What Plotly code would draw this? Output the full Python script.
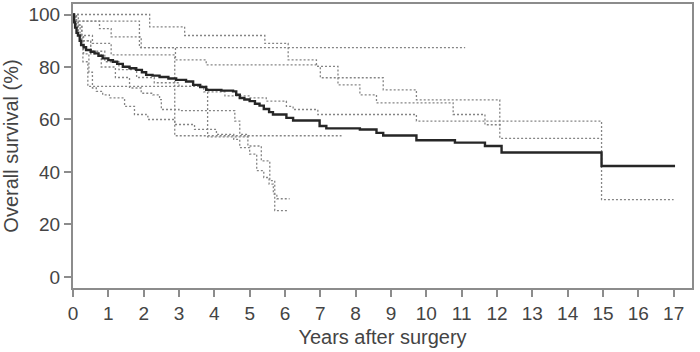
import plotly.graph_objects as go

# Overall (solid) Kaplan-Meier curve
overall_x = [0, 0.03, 0.06, 0.1, 0.14, 0.19, 0.23, 0.3, 0.37, 0.5, 0.61, 0.72, 0.84, 1.0, 1.13, 1.25,
             1.41, 1.6, 1.79, 1.95, 2.07, 2.25, 2.45, 2.7, 2.92, 3.2, 3.4, 3.6, 3.77, 4.2, 4.53, 4.62,
             4.72, 4.85, 5.0, 5.15, 5.28, 5.4, 5.55, 5.66, 6.04, 6.23, 6.98, 7.17, 8.12, 8.59, 8.78,
             9.72, 10.81, 11.66, 12.13, 14.96, 17.04]
overall_y = [100, 97, 95, 93, 92, 90, 88.4, 87.5, 86.5, 85.8, 85.2, 84.3, 83.3, 82.6, 82, 81.2,
             80.1, 79.5, 78.9, 78, 77, 76.7, 76.2, 75.6, 75.1, 74.5, 73.2, 72.4, 71.3, 71, 70.7, 69.4,
             68.2, 67.6, 67, 66, 65.3, 64, 62.8, 61.9, 60.6, 59.6, 57.5, 56.6, 56.2, 54.9, 53.9,
             52.1, 51.2, 49.9, 47.4, 42.3, 42.3]

# Subgroup (dotted) curves
g1_x = [0, 0.04, 1.88, 11.1]
g1_y = [100, 97.5, 87.4, 87.4]

g2_x = [0, 2.17, 3.16, 5.43, 6.09, 6.89, 7.0, 8.78, 9.72, 12.08, 14.96]
g2_y = [100, 95.3, 92, 89, 82.7, 80.2, 75.9, 71.3, 67.5, 52.8, 52.8]

g3_x = [0, 0.04, 0.75, 1.08, 1.93, 2.9, 3.77, 6.89, 7.5, 8.12, 8.59, 10.76, 11.66, 12.13]
g3_y = [100, 97.5, 94.6, 91.5, 87.4, 82.7, 80.8, 80.2, 73.2, 69.4, 66.3, 61.9, 58, 58]

g4_x = [0, 0.08, 0.25, 0.55, 1.08, 2.88, 7.6]
g4_y = [100, 96, 92, 89, 84.6, 53.8, 53.8]

g5_x = [0, 0.08, 0.2, 0.5, 0.9, 1.3, 1.8, 2.3, 3.0, 3.7, 4.3, 5.0, 5.47, 6.04, 6.23, 6.93, 9.72, 14.96, 17.0]
g5_y = [100, 95, 90, 86, 82, 79, 76, 74, 72.6, 70.5, 69, 68.2, 67, 65, 63.8, 61.9, 59.4, 29.5, 29.5]

g6_x = [0, 0.04, 0.14, 0.28, 0.42, 3.81, 5.0]
g6_y = [100, 97.8, 92, 82, 72.6, 53.4, 53.4]

g7_x = [0, 0.15, 0.3, 0.45, 0.55, 0.66, 0.84, 1.03, 1.46, 1.74, 2.07, 2.12, 2.88, 3.44, 4.06,
        4.55, 4.72, 5.0, 5.2, 5.4, 5.55, 5.67, 5.77, 6.13]
g7_y = [100, 92, 85, 78, 72, 70.7, 69.4, 68.2, 65, 61.9, 61.2, 60, 58.1, 56.2, 54.3,
        52.4, 49.3, 46.8, 40.5, 37.9, 35.4, 31.6, 29.8, 29.8]

g8_x = [0, 0.1, 0.25, 0.5, 0.8, 1.2, 1.6, 1.93, 2.26, 2.45, 2.5, 3.0, 4.58, 4.72, 4.95, 5.33,
        5.57, 5.71, 6.09]
g8_y = [100, 96, 90, 85, 80, 76, 72, 70, 69.4, 67.6, 63.8, 63.4, 59.4, 54.3, 49.9, 44.2,
        36.7, 25.3, 25.3]

x_ticks = list(range(0, 18))
y_ticks = [0, 20, 40, 60, 80, 100]

groups = [(g1_x, g1_y), (g2_x, g2_y), (g3_x, g3_y), (g4_x, g4_y),
          (g5_x, g5_y), (g6_x, g6_y), (g7_x, g7_y), (g8_x, g8_y)]

fig = go.Figure()
for gx, gy in groups:
    fig.add_trace(go.Scatter(x=gx, y=gy, mode="lines", line_shape="hv",
                             line=dict(color="#858585", width=1.3, dash="2px,2px"),
                             showlegend=False, hoverinfo="skip"))
fig.add_trace(go.Scatter(x=overall_x, y=overall_y, mode="lines", line_shape="hv",
                         line=dict(color="#262626", width=2.4),
                         showlegend=False))

font_family = "Liberation Sans Narrow, Liberation Sans, Arial, sans-serif"
txt = "#444444"
fig.update_layout(
    width=700, height=352,
    margin=dict(l=73, r=8, t=2, b=64),
    paper_bgcolor="white", plot_bgcolor="white",
    font=dict(family=font_family, size=19, color=txt),
)
fig.update_xaxes(
    range=[0, 17.52], tickvals=x_ticks, ticktext=[str(v) for v in x_ticks],
    showgrid=False, zeroline=False,
    showline=True, linecolor="#8c8c8c", linewidth=2, mirror=True,
    ticks="outside", ticklen=7, tickwidth=1.5, tickcolor="#8c8c8c",
    tickfont=dict(size=19, color=txt),
    title=dict(text="Years after surgery", font=dict(size=20, color=txt), standoff=7),
)
fig.update_yaxes(
    range=[-4.2, 104], tickvals=y_ticks, ticktext=[str(v) for v in y_ticks],
    showgrid=False, zeroline=False,
    showline=True, linecolor="#8c8c8c", linewidth=2, mirror=True,
    ticks="outside", ticklen=7, tickwidth=1.5, tickcolor="#8c8c8c",
    tickfont=dict(size=19, color=txt),
    title=dict(text="Overall survival (%)", font=dict(size=20, color=txt), standoff=8),
)

fig.write_html("out.html")
